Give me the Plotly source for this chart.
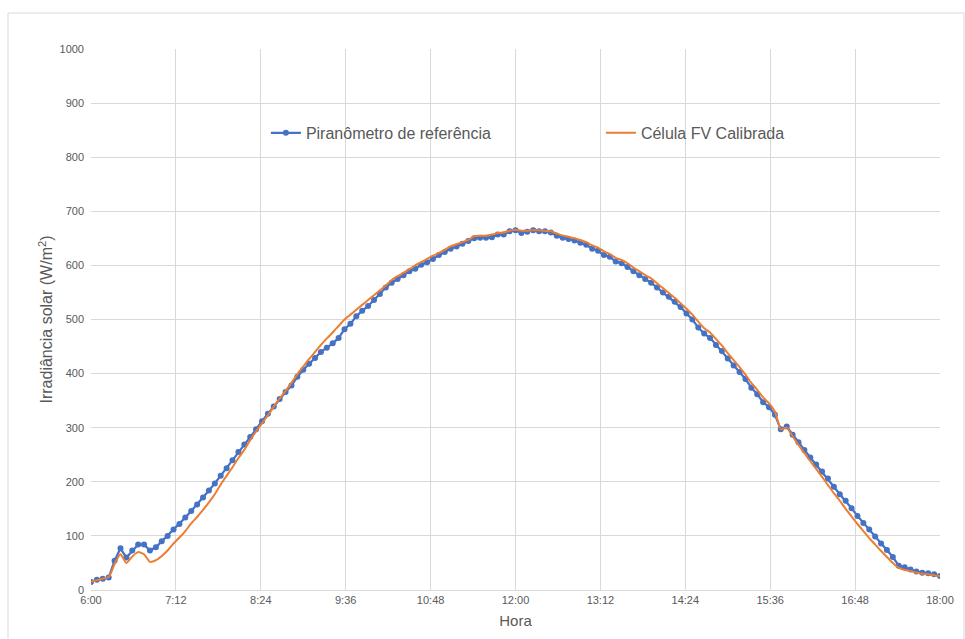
import plotly.graph_objects as go

# Time axis: 5-minute readings from 6:00 to 18:00 (minutes after 6:00)
minutes = [i * 5 for i in range(145)]

piranometro = [
    15, 19, 21, 23, 54, 77, 60, 73, 84, 84,
    73, 79, 90, 100, 112, 122, 134, 146, 158, 171,
    184, 197, 211, 225, 240, 255, 269, 283, 297, 312,
    326, 339, 353, 366, 378, 394, 407, 418, 429, 440,
    448, 456, 466, 482, 492, 506, 516, 525, 536, 547,
    559, 568, 575, 582, 589, 594, 601, 606, 612, 619,
    625, 631, 635, 640, 645, 650, 651, 651, 652, 657,
    657, 663, 665, 660, 662, 665, 663, 663, 661, 655,
    651, 649, 646, 642, 638, 631, 627, 619, 616, 607,
    604, 597, 589, 582, 575, 568, 559, 550, 542, 533,
    523, 511, 500, 485, 474, 466, 453, 442, 428, 415,
    403, 390, 374, 362, 347, 338, 324, 297, 302, 287,
    273, 259, 245, 232, 219, 206, 191, 177, 165, 151,
    137, 124, 112, 99, 86, 74, 61, 45, 42, 38,
    34, 32, 31, 29, 26,
]

celula_fv = [
    15, 18, 21, 24, 48, 66, 50, 62, 70, 66,
    52, 55, 63, 73, 86, 97, 109, 123, 135, 148,
    162, 177, 195, 211, 227, 244, 259, 277, 293, 308,
    323, 339, 354, 368, 383, 399, 413, 427, 440, 453,
    465, 476, 488, 500, 509, 518, 527, 536, 545, 554,
    563, 573, 580, 586, 593, 600, 606, 612, 618, 623,
    629, 635, 639, 643, 647, 654, 655, 655, 657, 660,
    661, 664, 666, 664, 664, 665, 665, 664, 663, 659,
    655, 653, 650, 647, 643, 637, 633, 626, 621, 614,
    610, 604, 596, 589, 582, 576, 567, 558, 549, 540,
    530, 520, 509, 496, 484, 476, 464, 452, 438, 425,
    412, 398, 383, 370, 356, 345, 330, 297, 300, 284,
    268, 253, 238, 224, 209, 194, 179, 165, 150, 136,
    122, 109, 96, 84, 72, 61, 50, 41, 37, 35,
    32, 30, 29, 27, 26,
]

tick_vals = [0, 72, 144, 216, 288, 360, 432, 504, 576, 648, 720]
tick_text = ["6:00", "7:12", "8:24", "9:36", "10:48", "12:00",
             "13:12", "14:24", "15:36", "16:48", "18:00"]

FONT = "Liberation Sans, Arial, sans-serif"
GRAY = "#595959"
GRID = "#d9d9d9"

fig = go.Figure()
fig.add_trace(go.Scatter(
    x=minutes, y=piranometro, name="Piranômetro de referência",
    mode="lines+markers",
    line=dict(color="#4472C4", width=2.25),
    marker=dict(color="#4472C4", size=6),
))
fig.add_trace(go.Scatter(
    x=minutes, y=celula_fv, name="Célula FV Calibrada",
    mode="lines", line=dict(color="#ED7D31", width=2, shape="spline", smoothing=0.6),
))

fig.update_layout(
    width=965, height=639,
    margin=dict(l=91, r=25, t=49, b=49),
    paper_bgcolor="white", plot_bgcolor="white",
    font=dict(family=FONT, color=GRAY),
    showlegend=True,
    legend=dict(
        orientation="h", x=0.206, y=0.845, xanchor="left", yanchor="middle",
        font=dict(size=16, color=GRAY), bgcolor="rgba(0,0,0,0)",
        entrywidth=290, entrywidthmode="pixels",
    ),
    xaxis=dict(
        range=[0, 720], tickvals=tick_vals, ticktext=tick_text,
        showgrid=True, gridcolor=GRID, gridwidth=1,
        showline=True, linecolor=GRID, mirror=False,
        zeroline=False, ticks="", tickfont=dict(size=11, color=GRAY),
        title=dict(text="Hora", font=dict(size=15, color=GRAY), standoff=10),
    ),
    yaxis=dict(
        range=[0, 1000], dtick=100,
        showgrid=True, gridcolor=GRID, gridwidth=1,
        zeroline=False, showline=False, ticks="",
        ticklabelstandoff=6,
        tickfont=dict(size=11, color=GRAY),
        title=dict(text="Irradiância solar (W/m<sup>2</sup>)",
                   font=dict(size=16, color=GRAY), standoff=2),
    ),
    shapes=[dict(
        type="rect", xref="paper", yref="paper",
        x0=(8 - 91) / 849, x1=(964 - 91) / 849,
        y0=(590 - 660) / 541, y1=(590 - 13) / 541,
        line=dict(color="#d9d9d9", width=1), fillcolor="rgba(0,0,0,0)",
        layer="below",
    )],
)

fig.write_html("out.html")
